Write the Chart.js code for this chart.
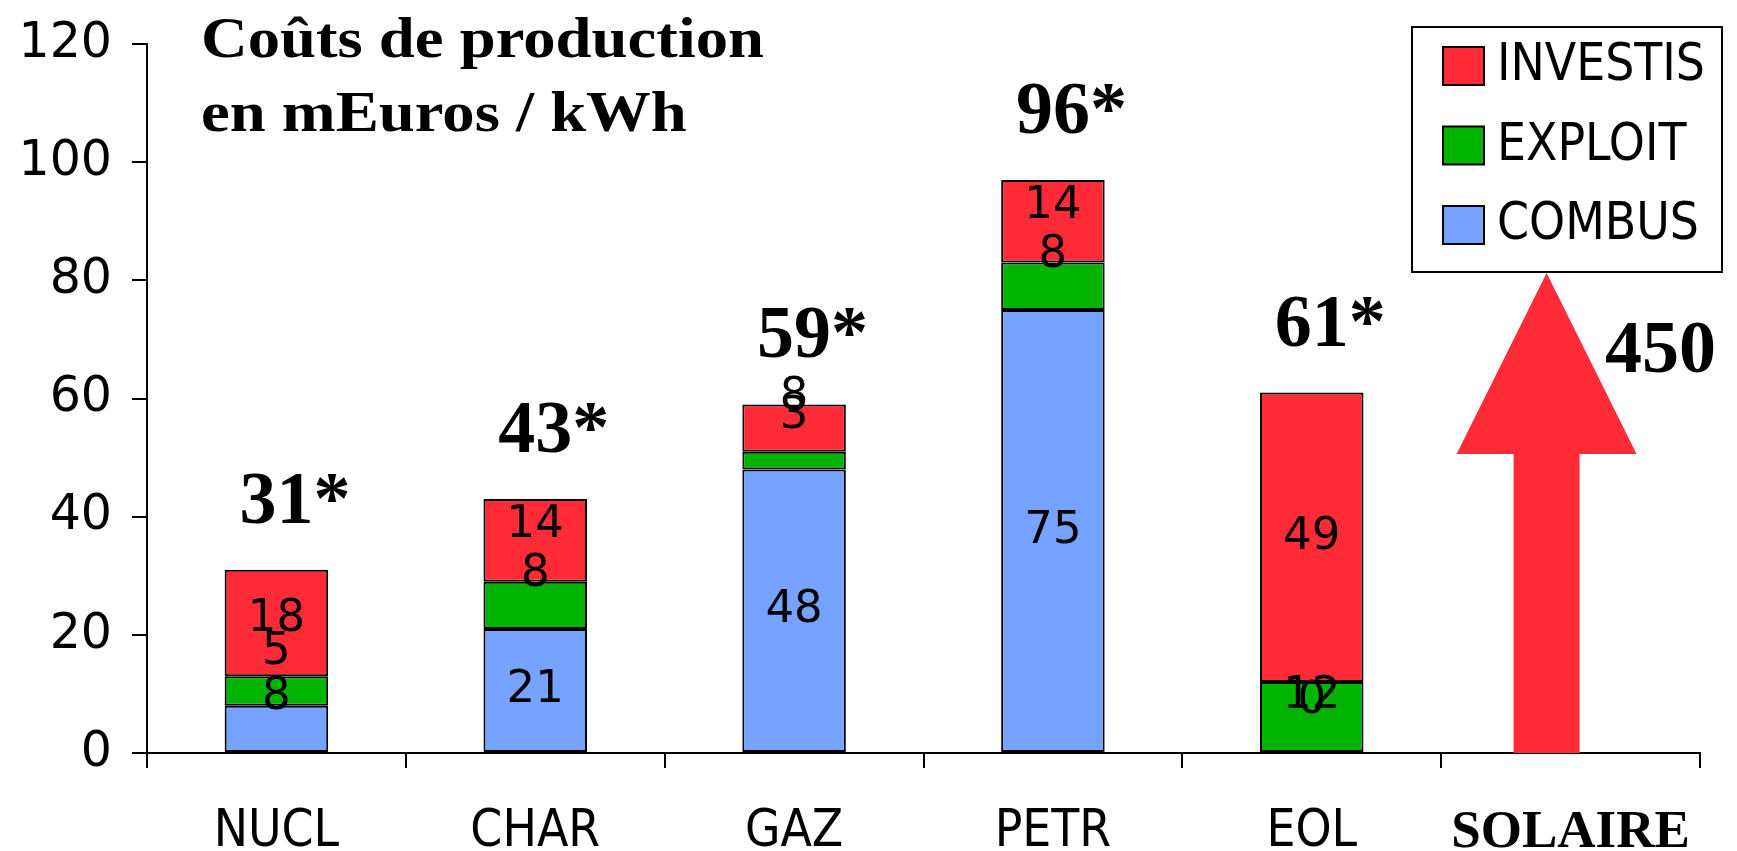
<!DOCTYPE html>
<html>
<head>
<meta charset="utf-8">
<script src="https://cdn.jsdelivr.net/npm/chart.js@4.4.0/dist/chart.umd.min.js"></script>
<style>
  html, body { margin: 0; padding: 0; background: #fff; }
  #wrap { width: 1737px; height: 851px; }
</style>
</head>
<body>
<div id="wrap"><canvas id="coutsChart"></canvas></div>
<script>
var categories = ['NUCL', 'CHAR', 'GAZ', 'PETR', 'EOL', 'SOLAIRE'];
var combus = [8, 21, 48, 75, 0, null];
var exploit = [5, 8, 3, 8, 12, null];
var investis = [18, 14, 8, 14, 49, null];
var totalLabels = ['31*', '43*', '59*', '96*', '61*'];
var solaireCost = 450;
var yTicks = [0, 20, 40, 60, 80, 100, 120];
var titleLines = ['Coûts de production', 'en mEuros / kWh'];

var colors = { investis: '#ff2b36', exploit: '#00b400', combus: '#76a3ff' };
var serif = "'Liberation Serif', 'Times New Roman', serif";
var sans = "'DejaVu Sans', sans-serif";
var narrow = "'DejaVu Sans Condensed', 'DejaVu Sans', sans-serif";

// legend box, top right
var legendBox = { left: 1412, top: 27, right: 1722, bottom: 272 };

var overlay = {
  id: 'overlay',
  afterDatasetsDraw: function (chart) {
    var ctx = chart.ctx;
    var x = chart.scales.x, y = chart.scales.y;
    ctx.save();

    // values inside the bars (small segments get pushed up, like the original)
    ctx.font = '45px ' + sans;
    ctx.fillStyle = '#000';
    ctx.textAlign = 'center';
    ctx.textBaseline = 'middle';
    chart.data.datasets.forEach(function (ds, i) {
      chart.getDatasetMeta(i).data.forEach(function (bar, j) {
        var v = ds.data[j];
        if (v === null || v === undefined) return;
        var p = bar.getProps(['x', 'y', 'base'], true);
        var h = Math.abs(p.base - p.y);
        var lift = Math.max(0, 52 - 0.45 * h);
        ctx.fillText(String(v), p.x, (p.y + p.base) / 2 - lift);
      });
    });

    // totals above the stacks
    ctx.font = 'bold 74px ' + serif;
    ctx.textAlign = 'left';
    ctx.textBaseline = 'alphabetic';
    var topMeta = chart.getDatasetMeta(2);
    totalLabels.forEach(function (t, j) {
      var bar = topMeta.data[j];
      var w = ctx.measureText(t.replace('*', '')).width;
      ctx.fillText(t, bar.x - w / 2, bar.y - 47);
    });

    // SOLAIRE: off-scale arrow
    var cx = x.getPixelForValue(5) - 24;
    var base = y.getPixelForValue(0);
    var tip = legendBox.bottom + 1;
    var neck = tip + 181;
    ctx.fillStyle = colors.investis;
    ctx.beginPath();
    ctx.moveTo(cx - 33, base);
    ctx.lineTo(cx - 33, neck);
    ctx.lineTo(cx - 90, neck);
    ctx.lineTo(cx, tip);
    ctx.lineTo(cx + 90, neck);
    ctx.lineTo(cx + 33, neck);
    ctx.lineTo(cx + 33, base);
    ctx.closePath();
    ctx.fill();
    ctx.fillStyle = '#000';
    ctx.textAlign = 'center';
    ctx.fillText(String(solaireCost), cx + 114, tip + 99);

    ctx.restore();
  },
  afterDraw: function (chart) {
    var ctx = chart.ctx;
    ctx.save();

    // title
    ctx.fillStyle = '#000';
    ctx.font = 'bold 58px ' + serif;
    ctx.textBaseline = 'alphabetic';
    ctx.textAlign = 'left';
    titleLines.forEach(function (line, i) {
      ctx.save();
      ctx.translate(201, 57 + i * 74);
      ctx.scale(1.115, 1);
      ctx.fillText(line, 0, 0);
      ctx.restore();
    });

    // legend
    ctx.fillStyle = '#fff';
    ctx.fillRect(legendBox.left, legendBox.top, legendBox.right - legendBox.left, legendBox.bottom - legendBox.top);
    ctx.strokeStyle = '#000';
    ctx.lineWidth = 2;
    ctx.strokeRect(legendBox.left, legendBox.top, legendBox.right - legendBox.left, legendBox.bottom - legendBox.top);
    var ds = chart.data.datasets.slice().reverse();
    ctx.font = '51px ' + narrow;
    ctx.textBaseline = 'middle';
    ds.forEach(function (d, i) {
      var cy = 66 + i * 79.5;
      ctx.fillStyle = d.backgroundColor;
      ctx.fillRect(1443, cy - 19, 41, 38);
      ctx.strokeRect(1443, cy - 19, 41, 38);
      ctx.fillStyle = '#000';
      ctx.fillText(d.label, 1497, cy + 1);
    });
    ctx.restore();
  }
};

new Chart(document.getElementById('coutsChart'), {
  type: 'bar',
  data: {
    labels: categories,
    datasets: [
      { label: 'COMBUS', data: combus, backgroundColor: colors.combus },
      { label: 'EXPLOIT', data: exploit, backgroundColor: colors.exploit },
      { label: 'INVESTIS', data: investis, backgroundColor: colors.investis }
    ]
  },
  options: {
    responsive: true,
    maintainAspectRatio: false,
    animation: false,
    devicePixelRatio: 1,
    layout: { padding: { top: 44, right: 37, left: 0, bottom: 0 } },
    datasets: {
      bar: {
        barPercentage: 0.4,
        categoryPercentage: 1.0,
        borderColor: '#000',
        borderWidth: 2,
        borderSkipped: false
      }
    },
    scales: {
      x: {
        stacked: true,
        grid: { drawOnChartArea: false, color: '#000', lineWidth: 2, tickLength: 15, offset: true },
        border: { display: true, color: '#000', width: 2 },
        ticks: {
          color: '#000',
          padding: 34,
          font: function (c) {
            if (c.index === 5) return { family: serif, weight: 'bold', size: 53 };
            return { family: narrow, size: 51 };
          }
        },
        afterFit: function (s) { s.height = 98; }
      },
      y: {
        stacked: true,
        min: yTicks[0],
        max: yTicks[yTicks.length - 1],
        grid: { drawOnChartArea: false, color: '#000', lineWidth: 2, tickLength: 15 },
        border: { display: true, color: '#000', width: 2 },
        ticks: {
          stepSize: yTicks[1] - yTicks[0],
          color: '#000',
          padding: 20,
          font: { family: sans, size: 49 }
        },
        afterFit: function (s) {
          s.width = 147;
          s.paddingTop = 0;
          s.paddingBottom = 0;
        }
      }
    },
    plugins: {
      legend: { display: false },
      tooltip: { enabled: false },
      title: { display: false }
    }
  },
  plugins: [overlay]
});
</script>
</body>
</html>
